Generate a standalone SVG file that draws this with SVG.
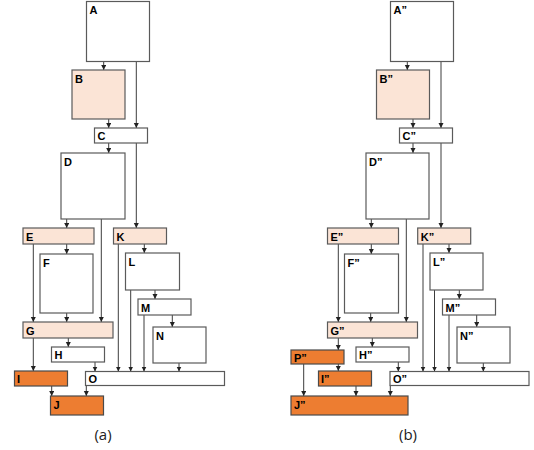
<svg xmlns="http://www.w3.org/2000/svg" width="534" height="450" viewBox="0 0 534 450">
<style>
.b{fill:#fff;stroke:#5a5a5a;stroke-width:1.2}
.p{fill:#fbe4d6;stroke:#5a5a5a;stroke-width:1.2}
.o{fill:#ed7d31;stroke:#4a4a4a;stroke-width:1.2}
.t{font-family:"Liberation Sans",Arial,sans-serif;font-weight:bold;font-size:11px;fill:#000}
.c{fill:none;stroke:#3c3c3c;stroke-width:1}
.cap{font-family:"Open Sans","Liberation Sans",sans-serif;font-size:15px;fill:#222;text-anchor:middle}
</style>
<defs>
<marker id="ah" markerUnits="userSpaceOnUse" markerWidth="6" markerHeight="6" refX="5" refY="2.5" orient="auto">
<path d="M0,0 L5,2.5 L0,5 z" fill="#222"/>
</marker>
</defs>
<g id="connectors" class="c" marker-end="url(#ah)">
<path d="M103.7 61.5V70"/>
<path d="M136.3 61.5V128"/>
<path d="M108.7 119V128"/>
<path d="M108.7 143V153"/>
<path d="M136.3 143V228"/>
<path d="M66.7 219V228"/>
<path d="M101.3 219V322"/>
<path d="M66.7 244V254"/>
<path d="M33.3 244V322"/>
<path d="M66.7 313V322"/>
<path d="M144.3 244V253"/>
<path d="M118.3 244V371.5"/>
<path d="M155 290V299"/>
<path d="M130.7 290V371.5"/>
<path d="M172.3 315V327"/>
<path d="M144 315V371.5"/>
<path d="M179 363V371.5"/>
<path d="M68.3 338V347"/>
<path d="M33.3 338V371"/>
<path d="M95 362V371.5"/>
<path d="M51.7 386V396"/>
<path d="M86.3 385.5V396"/>
<path d="M407.3 61.5V70"/>
<path d="M441 61.5V128"/>
<path d="M413 119V128"/>
<path d="M413 143V153"/>
<path d="M441 143V228"/>
<path d="M371.3 219V228"/>
<path d="M406.3 219V322"/>
<path d="M371.3 244V254"/>
<path d="M338.3 244V322"/>
<path d="M370.7 313V322"/>
<path d="M449 244V253"/>
<path d="M423 244V371.5"/>
<path d="M459.3 290V299"/>
<path d="M434.5 290V371.5"/>
<path d="M476.7 315V327"/>
<path d="M449 315V371.5"/>
<path d="M483.3 363V371.5"/>
<path d="M372.3 338V347"/>
<path d="M338.3 338V350"/>
<path d="M382.3 351V357.5"/>
<path d="M398.3 362V371.5"/>
<path d="M338.3 364V371"/>
<path d="M303.7 364V396"/>
<path d="M356 386V396"/>
<path d="M390.3 385.5V396"/>
</g>
<g id="A"><rect class="b" x="86.5" y="1.5" width="63" height="60"/><text class="t" x="89.5" y="14">A</text></g>
<g id="B"><rect class="p" x="72" y="70" width="53" height="49"/><text class="t" x="75" y="83">B</text></g>
<g id="C"><rect class="b" x="94.5" y="128" width="53" height="15"/><text class="t" x="97.5" y="140">C</text></g>
<g id="D"><rect class="b" x="61" y="153" width="64" height="66"/><text class="t" x="64" y="165.5">D</text></g>
<g id="E"><rect class="p" x="23" y="228" width="71" height="16"/><text class="t" x="26" y="240.5">E</text></g>
<g id="K"><rect class="p" x="113.5" y="228" width="53" height="16"/><text class="t" x="116.5" y="240.5">K</text></g>
<g id="F"><rect class="b" x="40" y="254" width="53" height="59"/><text class="t" x="43" y="266.5">F</text></g>
<g id="L"><rect class="b" x="125.5" y="253" width="54" height="37"/><text class="t" x="128.5" y="265.5">L</text></g>
<g id="M"><rect class="b" x="138" y="299" width="53" height="16"/><text class="t" x="141" y="311.5">M</text></g>
<g id="N"><rect class="b" x="153" y="327" width="53" height="36"/><text class="t" x="156" y="339.5">N</text></g>
<g id="G"><rect class="p" x="23" y="322" width="90" height="16"/><text class="t" x="26" y="334.5">G</text></g>
<g id="H"><rect class="b" x="51.5" y="347" width="53" height="15"/><text class="t" x="54.5" y="359">H</text></g>
<g id="I"><rect class="o" x="14.5" y="371" width="53" height="15"/><text class="t" x="17" y="383">I</text></g>
<g id="O"><rect class="b" x="85.5" y="371.5" width="139" height="14"/><text class="t" x="88.5" y="383">O</text></g>
<g id="J"><rect class="o" x="50.5" y="396" width="53" height="19"/><text class="t" x="53.5" y="408.5">J</text></g>
<g id="A2"><rect class="b" x="390.5" y="1.5" width="63" height="60"/><text class="t" x="393.5" y="14">A”</text></g>
<g id="B2"><rect class="p" x="376.5" y="70" width="53" height="49"/><text class="t" x="379.5" y="83">B”</text></g>
<g id="C2"><rect class="b" x="399.5" y="128" width="53" height="15"/><text class="t" x="402.5" y="140">C”</text></g>
<g id="D2"><rect class="b" x="366" y="153" width="63" height="66"/><text class="t" x="369" y="165.5">D”</text></g>
<g id="E2"><rect class="p" x="327.5" y="228" width="71" height="16"/><text class="t" x="330.5" y="240.5">E”</text></g>
<g id="K2"><rect class="p" x="417.7" y="228" width="53" height="16"/><text class="t" x="420.7" y="240.5">K”</text></g>
<g id="F2"><rect class="b" x="344.5" y="254" width="54" height="59"/><text class="t" x="347.5" y="266.5">F”</text></g>
<g id="L2"><rect class="b" x="430" y="253" width="53" height="37"/><text class="t" x="433" y="265.5">L”</text></g>
<g id="M2"><rect class="b" x="442.5" y="299" width="53" height="16"/><text class="t" x="445.5" y="311.5">M”</text></g>
<g id="N2"><rect class="b" x="457" y="327" width="53" height="36"/><text class="t" x="460" y="339.5">N”</text></g>
<g id="G2"><rect class="p" x="327.5" y="322" width="90" height="16"/><text class="t" x="330.5" y="334.5">G”</text></g>
<g id="H2"><rect class="b" x="356" y="347" width="53" height="15"/><text class="t" x="359" y="359">H”</text></g>
<g id="P2"><rect class="o" x="291" y="350" width="53" height="14"/><text class="t" x="294" y="361.5">P”</text></g>
<g id="I2"><rect class="o" x="318.5" y="371" width="53" height="15"/><text class="t" x="321" y="383">I”</text></g>
<g id="O2"><rect class="b" x="390" y="371.5" width="139" height="14"/><text class="t" x="393" y="383">O”</text></g>
<g id="J2"><rect class="o" x="291" y="396" width="117" height="19"/><text class="t" x="294" y="408.5">J”</text></g>
<text class="cap" x="103" y="440">(a)</text>
<text class="cap" x="408" y="440">(b)</text>
</svg>
